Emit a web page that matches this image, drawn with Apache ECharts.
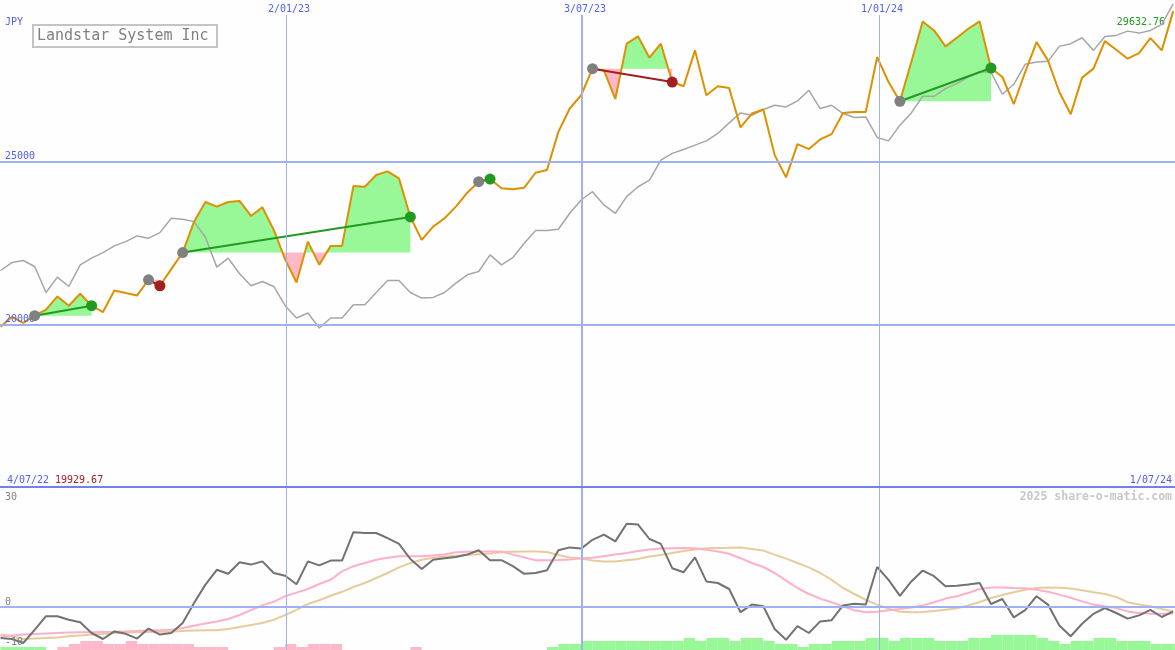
<!DOCTYPE html>
<html><head><meta charset="utf-8">
<script src="https://cdn.jsdelivr.net/npm/echarts@6.0.0/dist/echarts.min.js"></script>
<style>html,body{margin:0;padding:0;background:#fdfefd;}#c{width:1175px;height:650px;}</style>
</head><body><div id="c"></div>
<script>
// ---- data (weekly points, index 0..103) ----
const price = [19929.67,20228,20044,20268,20452,20860,20574,20942,20574,20381,
21044,20964,20890,21372,21188,21700,22209,23160,23764,23620,
23764,23795,23335,23601,22905,22000,21289,22546,21832,22414,
22414,24255,24233,24592,24706,24490,23304,22599,23007,23264,
23620,24049,24387,24469,24184,24153,24203,24663,24745,25920,
26638,27046,27864,27812,26932,28631,28855,28202,28631,27453,
27322,28426,27046,27322,27270,26055,26484,26607,25205,24522,
25543,25390,25687,25850,26503,26534,26534,28220,27453,26862,
28067,29315,29039,28549,28815,29091,29315,27883,27607,26770,
27760,28680,28119,27147,26463,27588,27864,28711,28447,28171,
28343,28803,28426,29632.76];
const benchmark = [21657,21902,21964,21780,20982,21454,21166,21832,22037,22209,
22414,22546,22721,22651,22822,23264,23233,23160,22681,21761,
22037,21556,21188,21320,21166,20574,20197,20350,19890,20197,
20197,20605,20605,20982,21350,21350,20982,20810,20829,20982,
21271,21525,21626,22139,21832,22056,22497,22884,22884,22927,
23417,23825,24080,23672,23417,23927,24233,24439,25052,25258,
25380,25512,25644,25871,26196,26503,26432,26607,26739,26687,
26871,27199,26638,26739,26484,26362,26380,25748,25644,26126,
26503,27015,27015,27251,27404,27607,27760,27760,27076,27383,
27996,28067,28088,28549,28631,28815,28426,28855,28886,29018,
28957,29039,29223,29858];
const momentum = [-7.75,-8.0,-9.0,-5.7,-2.3,-2.3,-3.2,-3.8,-6.5,-8.0,
-6.1,-6.7,-7.9,-5.4,-6.9,-6.5,-4.0,1.0,5.6,9.3,
8.3,11.2,10.6,11.4,8.5,7.8,5.7,11.4,10.4,11.6,
11.6,18.7,18.5,18.5,17.2,15.8,12.0,9.5,11.8,12.2,
12.5,13.1,14.2,11.7,11.7,10.2,8.3,8.5,9.2,14.2,
14.9,14.6,16.8,18.1,16.4,20.8,20.6,17.0,15.8,9.7,
8.7,12.4,6.4,6.0,4.5,-1.3,0.6,0.2,-5.5,-8.2,
-4.8,-6.5,-3.6,-3.3,0.4,0.8,0.6,10.0,6.8,2.8,
6.4,9.1,7.7,5.2,5.3,5.6,6.0,0.75,2.0,-2.6,
-0.8,2.7,0.6,-4.6,-7.3,-4.2,-1.7,-0.25,-1.5,-2.9,
-2.1,-0.7,-2.5,-1.1];
const momentumFast = [-7.3,-7.1,-6.9,-6.75,-6.6,-6.5,-6.4,-6.3,-6.3,-6.25,
-6.2,-6.1,-6.0,-5.9,-5.8,-5.7,-5.25,-4.7,-4.1,-3.6,
-3.0,-2.0,-0.8,0.4,1.3,2.7,3.6,4.5,5.75,6.8,
8.9,10.2,11.0,11.8,12.3,12.7,12.7,12.7,12.9,13.1,
13.7,13.8,13.9,13.9,13.9,13.1,12.4,11.7,11.7,11.75,
11.9,12.2,12.3,12.7,13.1,13.5,14.0,14.4,14.6,14.7,
14.75,14.7,14.3,13.9,13.3,12.2,11.0,10.0,8.5,6.6,
4.75,3.25,2.1,1.2,0.2,-0.8,-1.3,-1.2,-0.8,-0.5,
-0.1,0.4,1.2,2.1,2.7,3.5,4.5,4.9,4.9,4.75,
4.7,4.3,3.8,3.1,2.3,1.4,0.6,0.2,-0.25,-1.1,
-1.5,-1.7,-1.7,-1.7];
const momentumSlow = [-6.9,-7.3,-8.0,-7.9,-7.75,-7.6,-7.3,-7.1,-6.9,-6.75,
-6.5,-6.4,-6.3,-6.25,-6.2,-6.1,-6.0,-5.9,-5.8,-5.8,
-5.5,-5.0,-4.5,-4.0,-3.2,-2.0,-0.7,0.75,1.7,2.8,
3.8,5.0,6.0,7.25,8.5,9.9,11.0,11.8,12.3,12.6,
12.8,13.0,13.2,13.4,13.7,13.8,13.9,13.9,13.75,13.0,
12.4,12.1,11.6,11.4,11.4,11.7,12.0,12.6,13.0,13.5,
14.0,14.4,14.7,14.75,14.8,14.9,14.5,14.1,13.1,12.1,
11.0,9.9,8.5,6.8,4.75,3.25,1.8,0.6,-0.4,-1.2,
-1.3,-1.25,-1.0,-0.7,-0.3,0.4,1.25,2.25,3.0,3.7,
4.3,4.75,4.9,4.8,4.6,4.2,3.7,3.25,2.5,1.2,
0.6,0.2,-0.5,-1.1];
const signalLevels = [1,1,1,1,0,-1,-2,-3,-3,-2,
-2,-3,-2,-2,-2,-2,-2,-1,-1,-1,
0,0,0,0,-1,-2,-1,-2,-2,-2,
0,0,0,0,0,0,-1,0,0,0,
0,0,0,0,0,0,0,0,1,2,
2,3,3,3,3,3,3,3,3,3,
4,3,4,4,3,4,4,3,2,2,
1,2,2,3,3,3,4,4,3,4,
4,4,3,3,3,4,4,5,5,5,
5,4,3,2,3,3,4,4,3,3,
3,2,2,2];
const tradeEntry = [3, 13, 16, 42, 52, 79];
const tradeExit  = [8, 14, 36, 43, 59, 87];
const dateMarkLabels = ['2/01/23', '3/07/23', '1/01/24'];
const dateMarkPos = [25.08, 51.08, 77.16];
const priceTicks = [20000, 25000];
const momentumTicks = [30, 0, -10];
const currency = 'JPY';
const titleText = 'Landstar System Inc';
const startDate = '4/07/22', endDate = '1/07/24';
const firstValue = '19929.67', lastValue = '29632.76';
const credit = '2025 share-o-matic.com';

// ---- chart ----
const X_MIN = -0.044, X_MAX = 103.16;
const Y_MIN = 15000, Y_MAX = 29975;
const M_MIN = -10.75, M_MAX = 30;
const FONT = 'DejaVu Sans Mono';
const BLUE = '#5060f0', GRID = '#a0b0f0', SEP = '#7080ee';
const ORANGE = '#dd9000', GREYLINE = '#a6a6a6';
const FILL_UP = '#98f898', FILL_DN = '#ffb8c8';
const WIN = '#229922', LOSS = '#a31f1f';
const xy = arr => arr.map((v, i) => [i, v]);
const vTop = Y_MAX - 15 / 487 * (Y_MAX - Y_MIN);

const lbl = (extra) => Object.assign({show: true, color: BLUE, fontFamily: FONT, fontSize: 10}, extra);

const chart = echarts.init(document.getElementById('c'));
chart.setOption({
  animation: false,
  backgroundColor: '#fdfefd',
  grid: [
    {left: 0, right: 0, top: 0, height: 487},
    {left: 0, right: 0, top: 487, height: 163}
  ],
  xAxis: [
    {type: 'value', gridIndex: 0, min: X_MIN, max: X_MAX, show: false},
    {type: 'value', gridIndex: 1, min: X_MIN, max: X_MAX, show: false}
  ],
  yAxis: [
    {type: 'value', gridIndex: 0, min: Y_MIN, max: Y_MAX, show: false},
    {type: 'value', gridIndex: 1, min: M_MIN, max: M_MAX, show: false},
    {type: 'value', gridIndex: 1, min: 0, max: 54.33, show: false}
  ],
  graphic: [
    {type: 'text', left: 5, top: 17, style: {text: currency, fill: BLUE, font: '10px ' + FONT}},
    {type: 'rect', shape: {x: 33, y: 25, width: 184, height: 22}, style: {fill: 'none', stroke: '#c4c4c4', lineWidth: 2}},
    {type: 'text', left: 37, top: 29, style: {text: titleText, fill: '#808080', font: '15px ' + FONT}},
    {type: 'text', right: 10, top: 17, style: {text: lastValue, fill: WIN, font: '10px ' + FONT}},
    {type: 'text', left: 7, top: 475, style: {text: startDate, fill: BLUE, font: '10px ' + FONT}},
    {type: 'text', left: 55, top: 475, style: {text: firstValue, fill: '#a02020', font: '10px ' + FONT}},
    {type: 'text', right: 3, top: 475, style: {text: endDate, fill: BLUE, font: '10px ' + FONT}},
    {type: 'text', right: 3, top: 491, style: {text: credit, fill: '#c8c8c8', font: 'bold 11.5px ' + FONT}}
  ],
  series: [
    // upper grid lines
    {type: 'line', xAxisIndex: 0, yAxisIndex: 0, data: [], z: 0, silent: true,
      markLine: {silent: true, symbol: 'none', animation: false,
        data: [
          ...priceTicks.map(v => ({yAxis: v, lineStyle: {color: GRID, width: 2, type: 'solid'},
            label: lbl({formatter: String(v), position: 'insideStartTop', distance: [5, 0]})})),
          ...dateMarkPos.map((p, i) => [
            {coord: [p, Y_MIN], lineStyle: {color: GRID, width: i === 1 ? 2 : 1, type: 'solid'}},
            {coord: [p, vTop], label: lbl({formatter: dateMarkLabels[i], position: 'end', distance: 1, offset: [3, 0]})}
          ])
        ]}},
    // trade fills
    {type: 'custom', xAxisIndex: 0, yAxisIndex: 0, z: 1, silent: true,
      data: tradeEntry.map((e, j) => [e, tradeExit[j], price[e]]),
      encode: {x: [0, 1], y: 2},
      renderItem: (params, api) => {
        const e = api.value(0), x = api.value(1), E = api.value(2);
        const pts = [];
        for (let k = e; k <= x; k++) {
          if (k > e) {
            const p0 = price[k - 1], p1 = price[k];
            if ((p0 - E) * (p1 - E) < 0) { const t = (E - p0) / (p1 - p0); pts.push([k - 1 + t, E]); }
          }
          pts.push([k, price[k]]);
        }
        const close = [[x, E], [e, E]];
        const toPx = list => list.concat(close).map(p => api.coord(p));
        return {type: 'group', children: [
          {type: 'polygon', shape: {points: toPx(pts.map(p => [p[0], Math.max(p[1], E)]))}, style: {fill: FILL_UP}},
          {type: 'polygon', shape: {points: toPx(pts.map(p => [p[0], Math.min(p[1], E)]))}, style: {fill: FILL_DN}}
        ]};
      }},
    {type: 'line', xAxisIndex: 0, yAxisIndex: 0, z: 2, data: xy(benchmark), showSymbol: false, silent: true,
      lineStyle: {color: GREYLINE, width: 1.5}},
    {type: 'line', xAxisIndex: 0, yAxisIndex: 0, z: 3, data: xy(price), showSymbol: false, silent: true,
      lineStyle: {color: ORANGE, width: 2}},
    {type: 'lines', coordinateSystem: 'cartesian2d', xAxisIndex: 0, yAxisIndex: 0, z: 4, silent: true,
      lineStyle: {width: 2, opacity: 1, curveness: 0},
      data: tradeEntry.map((e, j) => ({coords: [[e, price[e]], [tradeExit[j], price[tradeExit[j]]]],
        lineStyle: {color: price[tradeExit[j]] >= price[e] ? WIN : LOSS}}))},
    {type: 'scatter', xAxisIndex: 0, yAxisIndex: 0, z: 5, symbolSize: 11, silent: true,
      itemStyle: {color: '#808080', opacity: 1},
      data: tradeEntry.map(e => [e, price[e]])},
    {type: 'scatter', xAxisIndex: 0, yAxisIndex: 0, z: 6, symbolSize: 11, silent: true,
      data: tradeExit.map((x, j) => ({value: [x, price[x]],
        itemStyle: {color: price[x] >= price[tradeEntry[j]] ? WIN : LOSS, opacity: 1}}))},
    // lower grid lines
    {type: 'line', xAxisIndex: 1, yAxisIndex: 1, data: [], z: 0, silent: true,
      markLine: {silent: true, symbol: 'none', animation: false,
        data: [
          ...dateMarkPos.map((p, i) => ({xAxis: p, lineStyle: {color: GRID, width: i === 1 ? 2 : 1, type: 'solid'}, label: {show: false}})),
          ...momentumTicks.map(v => ({yAxis: v,
            lineStyle: {color: v === M_MAX ? SEP : (v === 0 ? GRID : 'rgba(0,0,0,0)'), width: 2, type: 'solid'},
            label: lbl({color: '#808080', formatter: String(v),
              position: v === M_MAX ? 'insideStartBottom' : 'insideStartTop', distance: v === M_MAX ? [5, 5] : [5, 0]})}))
        ]}},
    // signal bars
    {type: 'custom', xAxisIndex: 1, yAxisIndex: 2, z: 1, silent: true,
      data: signalLevels.map((v, i) => [i, v]),
      encode: {x: 0, y: 1},
      renderItem: (params, api) => {
        const i = api.value(0), v = api.value(1);
        if (!v) return null;
        const a = api.coord([i, Math.abs(v)]), b = api.coord([i + 1, 0]);
        return {type: 'rect', shape: {x: a[0], y: a[1], width: b[0] - a[0], height: b[1] - a[1]},
          style: {fill: v > 0 ? FILL_UP : FILL_DN}};
      }},
    {type: 'line', xAxisIndex: 1, yAxisIndex: 1, z: 2, data: xy(momentumSlow), showSymbol: false, silent: true,
      lineStyle: {color: '#e6cc9c', width: 2}},
    {type: 'line', xAxisIndex: 1, yAxisIndex: 1, z: 3, data: xy(momentumFast), showSymbol: false, silent: true,
      lineStyle: {color: '#ffb0c8', width: 2}},
    {type: 'line', xAxisIndex: 1, yAxisIndex: 1, z: 4, data: xy(momentum), showSymbol: false, silent: true,
      lineStyle: {color: '#727272', width: 2}}
  ]
});
</script></body></html>
